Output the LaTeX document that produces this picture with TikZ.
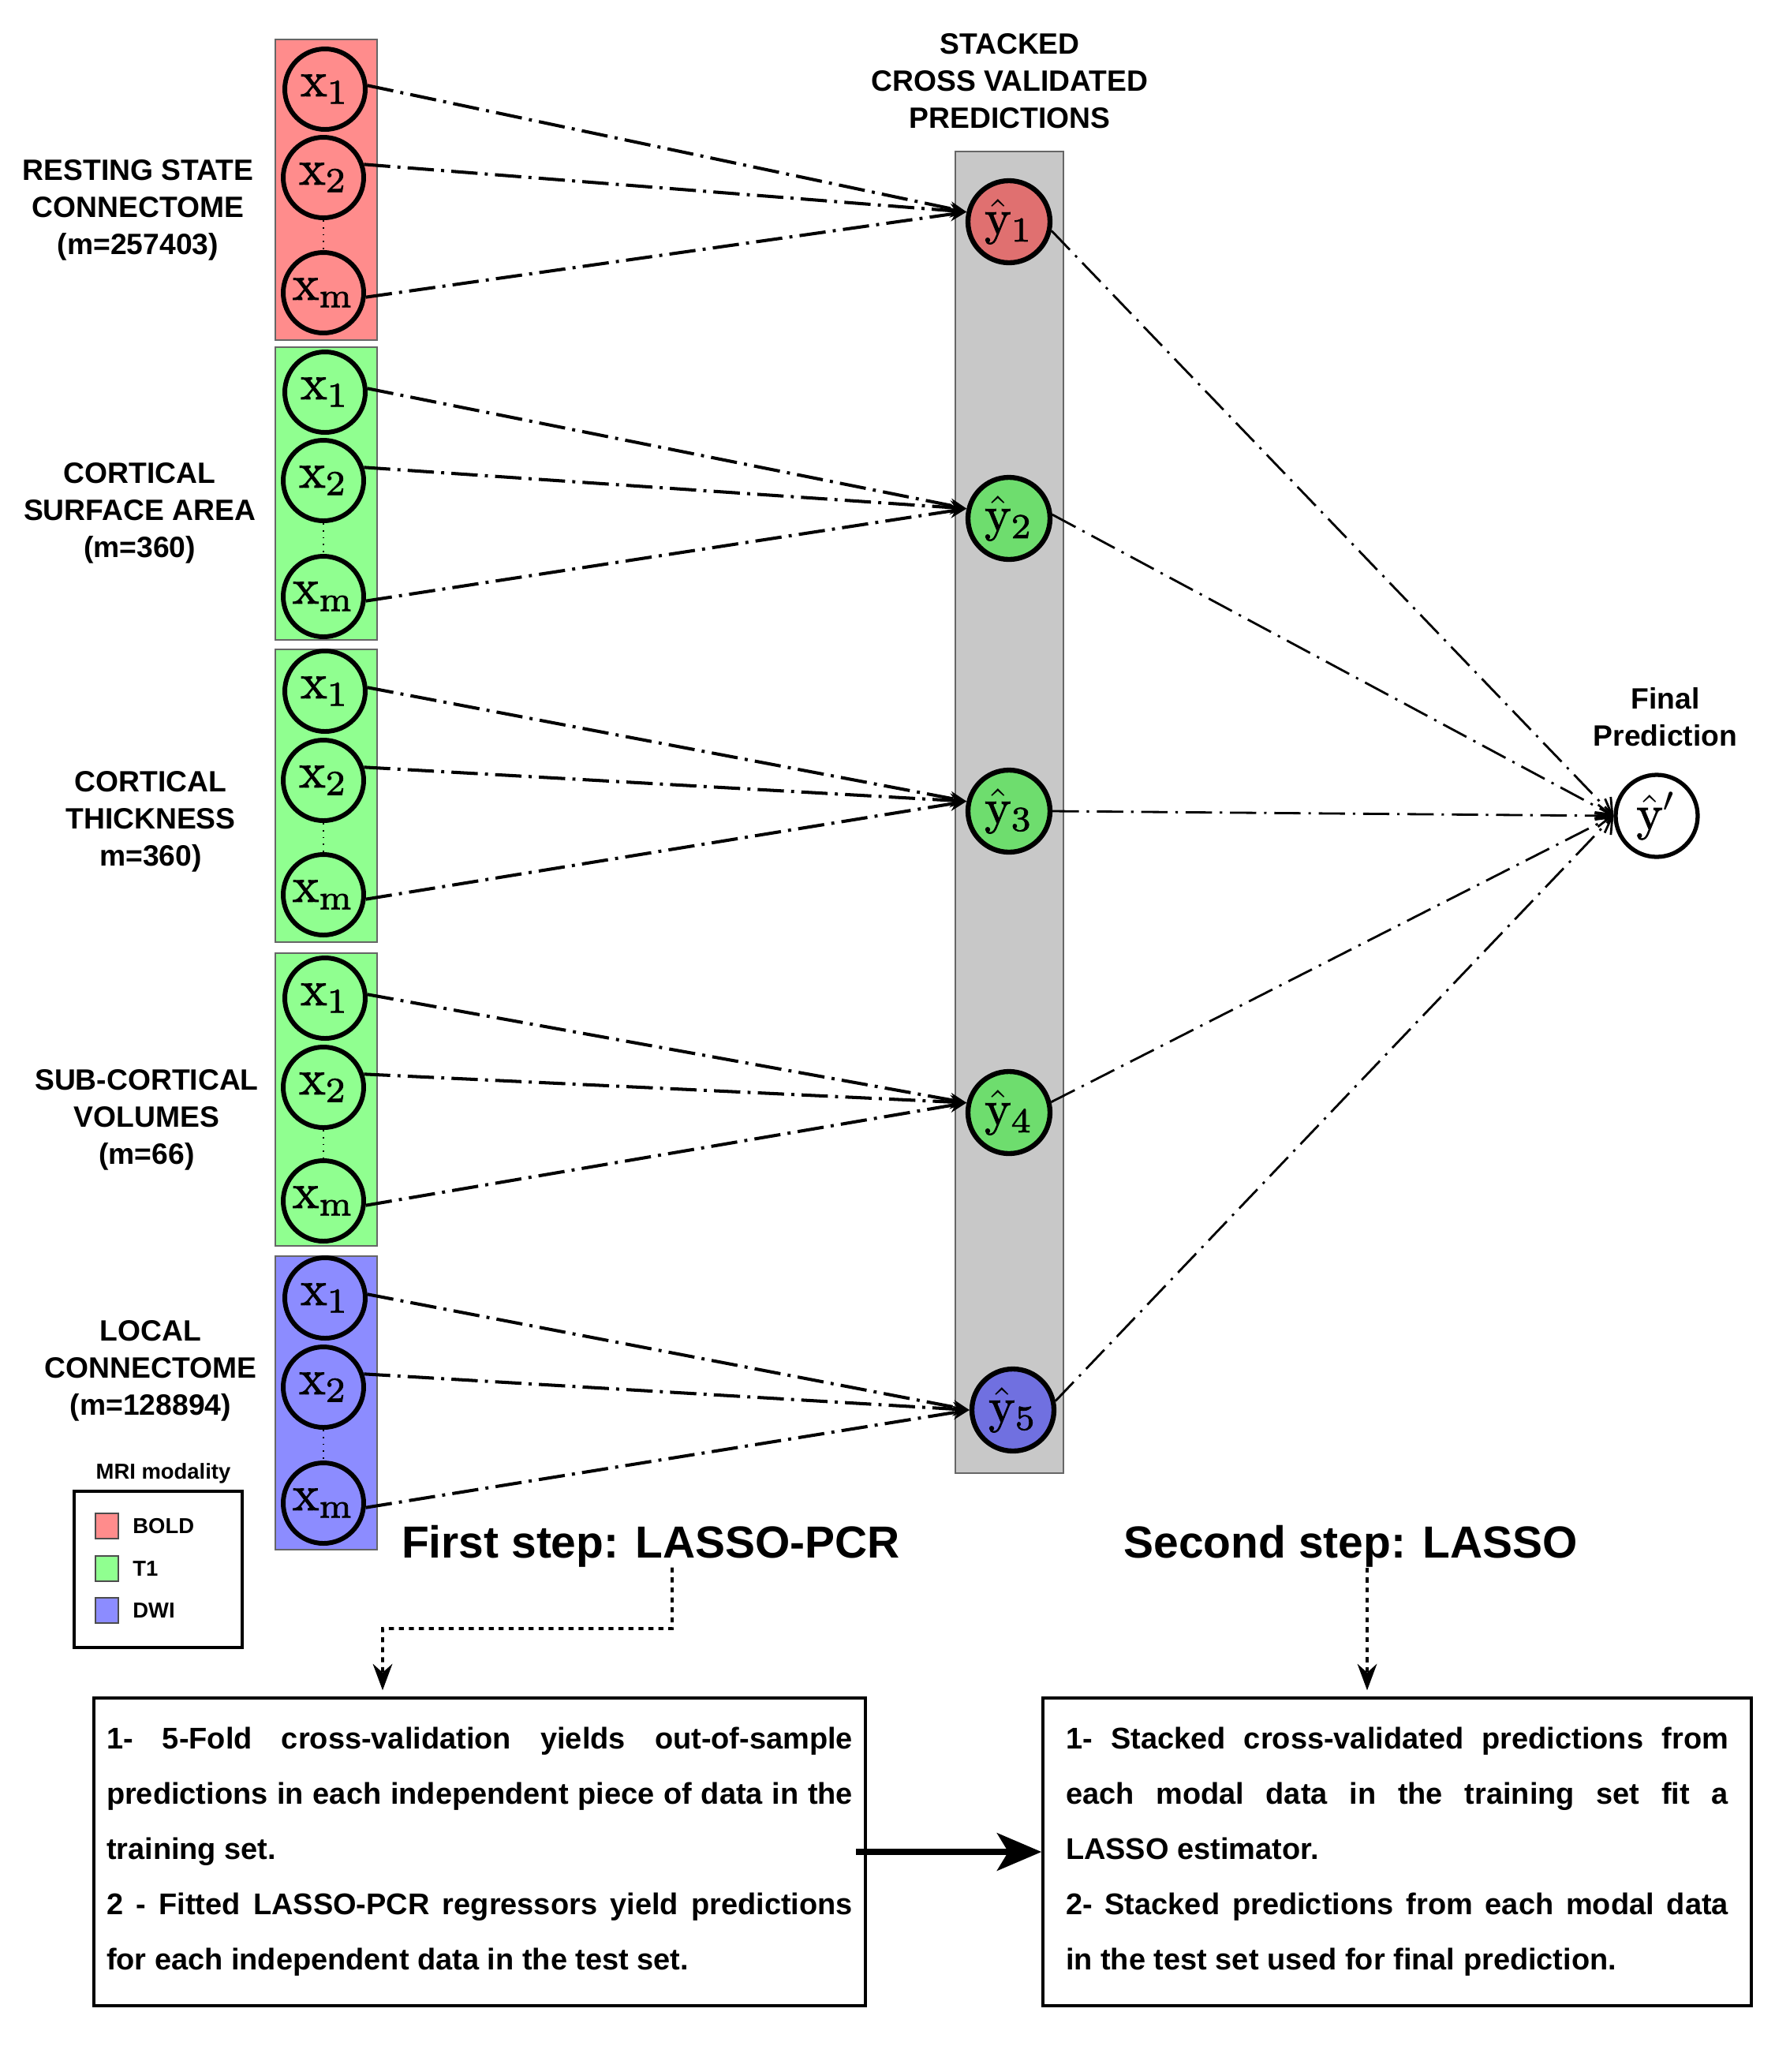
\documentclass[tikz,border=0pt]{standalone}
\usepackage{graphicx}
\usepackage{fontspec}
\newfontfamily\labfont{Liberation Sans}
\setmathrm{Latin Modern Roman}[FakeBold=1.6]
\usetikzlibrary{arrows.meta}
\setlength{\parindent}{0pt}

\definecolor{boldfill}{RGB}{255,140,140}
\definecolor{tonefill}{RGB}{144,255,144}
\definecolor{dwifill}{RGB}{140,140,255}
\definecolor{boldnode}{RGB}{224,112,112}
\definecolor{tonenode}{RGB}{110,221,110}
\definecolor{dwinode}{RGB}{112,112,224}
\definecolor{stackfill}{RGB}{200,200,200}

\newcommand{\bigsym}[1]{\scalebox{1.8}{$#1$}}

\begin{document}
\begin{tikzpicture}[
        feat/.style={circle, draw=black, line width=1.7pt, minimum size=1.02cm, inner sep=0pt, font=\fontsize{10}{12}\selectfont},
        pred/.style={feat, line width=1.8pt, minimum size=1.04cm},
        lab/.style={align=center, font=\labfont\bfseries\fontsize{10.6}{13.4}\selectfont},
        linkline/.style={line width=1.15pt, dash pattern=on 9.5pt off 2.6pt on 1.1pt off 2.6pt},
        finalline/.style={line width=0.8pt, dash pattern=on 9.5pt off 2.8pt on 0.9pt off 2.8pt},
        dotline/.style={line width=1.1pt, dash pattern=on 1.8pt off 1.8pt},
        steptext/.style={inner sep=0pt, anchor=base, font=\labfont\bfseries\fontsize{16.2}{19}\selectfont},
        descbox/.style={draw=black, line width=1pt, align=justify, minimum height=3.9cm, font={\labfont\bfseries\fontsize{10.8}{19.9}\selectfont\tolerance=10000\relax\hbadness=10000\relax}},
        legtext/.style={font=\labfont\bfseries\fontsize{7.8}{9}\selectfont}
    ]

            \useasboundingbox (0,0) rectangle (22.5,-26.26);

            \draw[fill=stackfill, draw=black!60, line width=0.5pt] (12.11,-1.92) rectangle (13.48,-18.67);

            \foreach \g/\ytop/\ybot/\ya/\yb/\ym/\col in {1/0.50/4.31/1.13/2.25/3.71/boldfill, 2/4.40/8.11/4.97/6.09/7.56/tonefill, 3/8.23/11.94/8.76/9.89/11.34/tonefill, 4/12.08/15.79/12.65/13.78/15.22/tonefill, 5/15.92/19.64/16.45/17.58/19.05/dwifill} {
                \draw[fill=\col, draw=black!60, line width=0.4pt] (3.49,-\ytop) rectangle (4.78,-\ybot);
                \node[feat] (xa\g) at (4.12,-\ya) {\bigsym{\mathrm{x}_{\mathrm{1}}}};
                \node[feat] (xb\g) at (4.10,-\yb) {\bigsym{\mathrm{x}_{\mathrm{2}}}};
                \node[feat] (xm\g) at (4.10,-\ym) {\bigsym{\mathrm{x}_{\mathrm{m}}}};
                \draw[dotted, line width=0.5pt] (xb\g) -- (xm\g);
            }

            \foreach \g/\yx/\yy/\col in {1/12.79/2.81/boldnode, 2/12.79/6.57/tonenode, 3/12.79/10.28/tonenode, 4/12.79/14.10/tonenode, 5/12.84/17.87/dwinode} {
                \node[pred, fill=\col] (y\g) at (\yx,-\yy) {\bigsym{\hat{\mathrm{y}}_{\mathrm{\g}}}};
            }

            \node[pred, line width=1.5pt] (yp) at (21.00,-10.34) {\bigsym{\hat{\mathrm{y}}'}};

            \foreach \g/\ain/\aout in {1/167/-12, 2/167/5, 3/167/0, 4/167/14, 5/180/12} {
                \draw[linkline, -{Stealth[length=6pt, width=5pt]}] (xa\g.5) -- (y\g.\ain);
                \draw[linkline, -{Stealth[length=6pt, width=5pt]}] (xb\g.18) -- (y\g.\ain);
                \draw[linkline, -{Stealth[length=6pt, width=5pt]}] (xm\g.-6) -- (y\g.\ain);
                \draw[finalline, -{Straight Barb[length=5pt, width=8pt]}] (y\g.\aout) -- (yp.west);
            }

            \node[lab] (restlab) at (1.75,-2.66) {RESTING STATE\\CONNECTOME\\(m=257403)};
            \node[lab] (arealab) at (1.77,-6.50) {CORTICAL\\SURFACE AREA\\(m=360)};
            \node[lab] (thicklab) at (1.91,-10.41) {CORTICAL\\THICKNESS\\m=360)};
            \node[lab] (sublab) at (1.86,-14.19) {SUB-CORTICAL\\VOLUMES\\(m=66)};
            \node[lab] (locallab) at (1.91,-17.37) {LOCAL\\CONNECTOME\\(m=128894)};
            \node[lab] (stacklab) at (12.80,-1.03) {STACKED\\CROSS VALIDATED\\PREDICTIONS};
            \node[lab] (finlab) at (21.11,-9.09) {Final\\Prediction};

            \node[legtext] (legtitle) at (2.07,-18.67) {MRI modality};
            \draw[line width=0.9pt] (0.94,-18.90) rectangle (3.07,-20.88);
            \foreach \k/\ys/\col/\txt in {1/19.18/boldfill/BOLD, 2/19.72/tonefill/T1, 3/20.25/dwifill/DWI} {
                \draw[fill=\col, draw=black!70, line width=0.5pt] (1.21,-\ys) rectangle ++(0.29,-0.32);
                \node[legtext, anchor=west] (leg\k) at (1.56,-\ys-0.16) {\txt};
            }

            \node[steptext] (first) at (8.25,-19.74) {First step: LASSO-PCR};
            \node[steptext] (second) at (17.12,-19.74) {Second step: LASSO};

            \node[descbox, text width=9.46cm, inner xsep=0.16cm] (trainbox) at (6.08,-23.47) {1- 5-Fold cross-validation yields out-of-sample\linebreak predictions in each independent piece of data in the\linebreak training set.\par 2 - Fitted LASSO-PCR regressors yield predictions\linebreak for each independent data in the test set.};
            \node[descbox, text width=8.40cm, inner xsep=0.29cm] (stackbox) at (17.71,-23.47) {1- Stacked cross-validated predictions from\linebreak each modal data in the training set fit a\linebreak LASSO estimator.\par 2- Stacked predictions from each modal data\linebreak in the test set used for final prediction.};

            \coordinate (bend) at (4.85,-20.64);
            \draw[dotline, shorten >=0.08cm, -{Stealth[length=9.5pt, width=7pt]}] ([xshift=0.27cm]first.south) |- (bend) -- ([xshift=-1.23cm]trainbox.north);
            \draw[dotline, shorten >=0.08cm, -{Stealth[length=9.5pt, width=7pt]}] ([xshift=0.21cm]second.south) -- ([xshift=-0.38cm]stackbox.north);

            \draw[line width=2.3pt, -{Stealth[length=16pt, width=13.5pt, inset=4pt]}] ([xshift=-0.14cm]trainbox.east) -- (stackbox.west);

\end{tikzpicture}
\end{document}
